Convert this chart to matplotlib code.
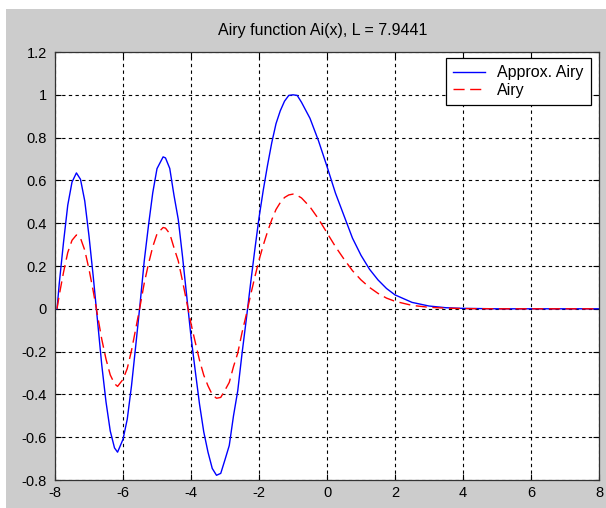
import numpy as np
import matplotlib
matplotlib.use("Agg")
import matplotlib.pyplot as plt
from matplotlib.patches import Rectangle

plt.rcParams['font.family'] = ['Liberation Sans', 'DejaVu Sans']

# values
x_vals = [-7.94, -7.875, -7.75, -7.625, -7.5, -7.37, -7.25, -7.125, -7.0, -6.875,
          -6.75, -6.625, -6.5, -6.375, -6.25, -6.16, -6.0, -5.875, -5.75, -5.625,
          -5.5, -5.375, -5.25, -5.125, -5.0, -4.82, -4.75, -4.625, -4.5, -4.375,
          -4.25, -4.125, -4.0, -3.875, -3.75, -3.625, -3.5, -3.375, -3.25, -3.125,
          -3.0, -2.875, -2.75, -2.625, -2.5, -2.375, -2.25, -2.125, -2.0, -1.875,
          -1.75, -1.625, -1.5, -1.375, -1.25, -1.125, -1.0, -0.875, -0.75,
          -0.5, -0.25, 0.0, 0.25, 0.5, 0.75, 1.0, 1.25, 1.5, 1.75, 2.0, 2.5, 3.0,
          3.5, 4.0, 5.0, 6.0, 7.0, 8.0]
approx_airy = [0.0, 0.118, 0.31, 0.484, 0.592, 0.635, 0.605, 0.504, 0.34, 0.150,
               -0.055, -0.262, -0.435, -0.571, -0.65, -0.67, -0.61, -0.516, -0.36, -0.172,
               0.02, 0.224, 0.39, 0.542, 0.655, 0.71, 0.705, 0.656, 0.53, 0.418,
               0.245, 0.058, -0.13, -0.29, -0.445, -0.575, -0.67, -0.746, -0.778, -0.769,
               -0.705, -0.639, -0.50, -0.383, -0.21, -0.051, 0.115, 0.274, 0.425, 0.554,
               0.67, 0.776, 0.865, 0.925, 0.97, 0.997, 1.0, 0.997, 0.965,
               0.89, 0.785, 0.665, 0.54, 0.435, 0.33, 0.25, 0.185, 0.135, 0.095, 0.065, 0.03, 0.013,
               0.005, 0.002, 0.0, 0.0, 0.0, 0.0]
airy = [0.0, 0.064, 0.17, 0.263, 0.32, 0.345, 0.33, 0.274, 0.185, 0.082,
        -0.03, -0.142, -0.235, -0.309, -0.35, -0.3626, -0.33, -0.279, -0.195, -0.093,
        0.01, 0.120, 0.21, 0.290, 0.35, 0.38, 0.377, 0.351, 0.285, 0.224,
        0.13, 0.031, -0.07, -0.156, -0.24, -0.310, -0.36, -0.401, -0.418, -0.414,
        -0.38, -0.344, -0.27, -0.207, -0.112, -0.028, 0.062, 0.147, 0.227, 0.297,
        0.36, 0.416, 0.464, 0.496, 0.52, 0.532, 0.536, 0.530, 0.518,
        0.476, 0.42, 0.355, 0.29, 0.232, 0.178, 0.135, 0.10, 0.072, 0.05, 0.035, 0.016, 0.007,
        0.003, 0.001, 0.0, 0.0, 0.0, 0.0]

x_ticks = [-8, -6, -4, -2, 0, 2, 4, 6, 8]
y_ticks = [-0.8, -0.6, -0.4, -0.2, 0, 0.2, 0.4, 0.6, 0.8, 1, 1.2]
y_labels = ['-0.8', '-0.6', '-0.4', '-0.2', '0', '0.2', '0.4', '0.6', '0.8', '1', '1.2']

W, H = 606, 508
fig = plt.figure(figsize=(W / 100, H / 100), dpi=100, facecolor='white')
# matlab grey figure panel
fig.patches.append(Rectangle((6 / W, 0), 1, 1 - 9 / H, transform=fig.transFigure,
                             facecolor='#cccccc', edgecolor='none', zorder=-10))

ax = fig.add_axes([55 / W, 1 - 480 / H, (599 - 55) / W, (480 - 52) / H])
ax.set_facecolor('white')
ax.set_zorder(1)

ax.plot(x_vals, approx_airy, color='#0000ff', lw=1.0, label='Approx. Airy')
ax.plot(x_vals, airy, color='#ff0000', lw=1.0, dashes=(8, 4), label='Airy')

ax.set_xlim(-8, 8)
ax.set_ylim(-0.8, 1.2)
ax.set_xticks(x_ticks)
ax.set_xticklabels([str(t) for t in x_ticks])
ax.set_yticks(y_ticks)
ax.set_yticklabels(y_labels)
ax.tick_params(direction='in', length=4, width=0.8, top=True, right=True,
               labelsize=10.5, colors='black')
ax.tick_params(axis='x', pad=4)
ax.tick_params(axis='y', pad=6)
ax.grid(True, color='black', linestyle=(0, (3, 3)), lw=0.8)
for s in ax.spines.values():
    s.set_color('#333333')
    s.set_linewidth(0.9)

fig.text(322.5 / W, 1 - 30 / H, 'Airy function Ai(x), L = 7.9441',
         ha='center', va='center', fontsize=11.5)

leg = ax.legend(loc='upper right', bbox_to_anchor=(591 / W, 1 - 58 / H),
                bbox_transform=fig.transFigure, borderaxespad=0, fancybox=False,
                edgecolor='black', framealpha=1, fontsize=11.5, handlelength=2.0,
                handletextpad=0.8, borderpad=0.45, labelspacing=0.15)
leg.get_frame().set_linewidth(0.9)

fig.savefig('out.png', dpi=100, facecolor=fig.get_facecolor())
